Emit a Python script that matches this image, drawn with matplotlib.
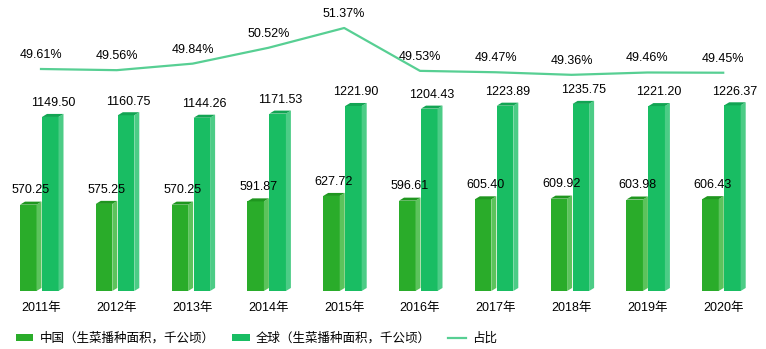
import matplotlib
matplotlib.use("Agg")
import matplotlib.pyplot as plt
from matplotlib.patches import Polygon, Patch
from matplotlib.lines import Line2D

years = ["2011年", "2012年", "2013年", "2014年", "2015年",
         "2016年", "2017年", "2018年", "2019年", "2020年"]
china = [570.25, 575.25, 570.25, 591.87, 627.72, 596.61, 605.40, 609.92, 603.98, 606.43]
world = [1149.50, 1160.75, 1144.26, 1171.53, 1221.90, 1204.43, 1223.89, 1235.75, 1221.20, 1226.37]
share = [49.61, 49.56, 49.84, 50.52, 51.37, 49.53, 49.47, 49.36, 49.46, 49.45]

plt.rcParams['font.family'] = ['Liberation Sans', 'Noto Sans CJK SC', 'DejaVu Sans']
plt.rcParams['font.size'] = 9

W, H = 766, 349
fig = plt.figure(figsize=(W / 100, H / 100), dpi=100)
ax = fig.add_axes([0, 58 / H, 1, 291 / H])
step = 75.8  # pixels per category
ax.set_xlim(-41 / step, (W - 41) / step)
ax.set_ylim(0, 1922)

dx = 5 / step   # bar depth (x)
dy = 20         # bar depth (y, value units)
wf = 16.5 / step

def bar3d(x0, h, front, side, top):
    x1 = x0 + wf
    ax.add_patch(Polygon([(x0, 0), (x1, 0), (x1, h), (x0, h)], closed=True,
                         facecolor=front, edgecolor='none'))
    ax.add_patch(Polygon([(x1, 0), (x1 + dx, dy), (x1 + dx, h + dy), (x1, h)], closed=True,
                         facecolor=side, edgecolor='none'))
    ax.add_patch(Polygon([(x0, h), (x1, h), (x1 + dx, h + dy), (x0 + dx, h + dy)], closed=True,
                         facecolor=top, edgecolor='none'))

for i, (c, w) in enumerate(zip(china, world)):
    xc = i - 21 / step
    xw = i + 1 / step
    bar3d(xc, c, '#2aac2a', '#5cc35c', '#1f961f')
    bar3d(xw, w, '#19bd63', '#4ccc86', '#12a453')

for i, (c, w) in enumerate(zip(china, world)):
    xc = i - 21 / step
    xw = i + 1 / step
    ax.annotate(f"{c:.2f}", (xc + (wf + dx) / 2, c + dy), xytext=(0, 6),
                textcoords='offset points', ha='center', va='baseline', fontsize=9, zorder=5)
    ax.annotate(f"{w:.2f}", (xw + (wf + dx) / 2, w + dy), xytext=(0, 5.5),
                textcoords='offset points', ha='center', va='baseline', fontsize=9, zorder=5)

ax.set_xticks(range(len(years)))
ax.set_xticklabels(years, fontsize=9)
ax.tick_params(axis='x', length=0, pad=8)
ax.set_yticks([])
for s in ax.spines.values():
    s.set_visible(False)

ax2 = ax.twinx()
ax2.set_ylim(49.61 - (291 - 69) / 23.3, 49.61 + 69 / 23.3)
ax2.plot(range(len(share)), share, color='#57cf93', linewidth=1.6)
for i, v in enumerate(share):
    ax2.annotate(f"{v:.2f}%", (i, v), xytext=(0, 8), textcoords='offset points',
                 ha='center', va='baseline', fontsize=9)
ax2.set_yticks([])
for s in ax2.spines.values():
    s.set_visible(False)

handles = [Patch(facecolor='#2aac2a'), Patch(facecolor='#19bd63'),
           Line2D([], [], color='#57cf93', linewidth=1.6)]
labels = ["中国（生菜播种面积，千公顷）", "全球（生菜播种面积，千公顷）", "占比"]
fig.legend(handles, labels, loc='lower center', bbox_to_anchor=(0.335, -0.02), ncol=3,
           frameon=False, handlelength=1.4, handleheight=0.5, handletextpad=0.5,
           columnspacing=1.4, fontsize=9)

fig.savefig("out.png", dpi=100)
